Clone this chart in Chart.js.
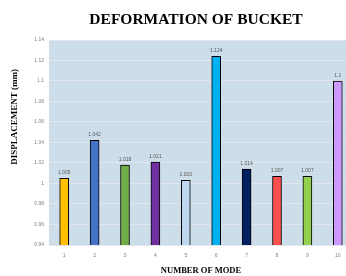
<!DOCTYPE html>
<html>
<head>
<meta charset="utf-8">
<script src="https://cdn.jsdelivr.net/npm/chart.js@4/dist/chart.umd.min.js"></script>
<style>
  html, body { margin: 0; padding: 0; background: #fff; overflow: hidden; }
  #wrap { width: 346px; height: 276px; overflow: hidden; }
</style>
</head>
<body>
<div id="wrap"><canvas id="bucketChart" width="354" height="276"></canvas></div>
<script>
const modes = ['1', '2', '3', '4', '5', '6', '7', '8', '9', '10'];
const displacement = [1.005, 1.042, 1.018, 1.021, 1.003, 1.124, 1.014, 1.007, 1.007, 1.1];
const barColors = ['#FFC000', '#4472C4', '#70AD47', '#7030A0', '#BDD7EE',
                   '#00B0F0', '#002060', '#FF5050', '#92D050', '#CC99FF'];
const yTicks = [0.94, 0.96, 0.98, 1, 1.02, 1.04, 1.06, 1.08, 1.1, 1.12, 1.14];

// plot background, value labels, chart title and y title drawn by hand
const extras = {
  id: 'extras',
  beforeDraw(chart) {
    const { ctx, chartArea } = chart;
    ctx.save();
    ctx.fillStyle = '#cddde9';
    ctx.fillRect(chartArea.left, chartArea.top, chartArea.right - chartArea.left, chartArea.bottom - chartArea.top);
    ctx.restore();
  },
  afterDatasetsDraw(chart) {
    const { ctx } = chart;
    const meta = chart.getDatasetMeta(0);
    ctx.save();
    ctx.font = '5px "Liberation Sans", sans-serif';
    ctx.fillStyle = '#595959';
    ctx.textAlign = 'center';
    ctx.textBaseline = 'bottom';
    meta.data.forEach((bar, i) => {
      ctx.fillText(String(displacement[i]), bar.x, bar.y - 3);
    });

    ctx.fillStyle = '#000';
    ctx.textBaseline = 'middle';
    ctx.font = 'bold 15.5px "Liberation Serif", serif';
    ctx.fillText('DEFORMATION OF BUCKET', 196, 20);

    ctx.translate(15, 117);
    ctx.rotate(-Math.PI / 2);
    ctx.font = 'bold 9px "Liberation Serif", serif';
    ctx.fillText('DISPLACEMENT (mm)', 0, 0);
    ctx.restore();
  }
};

const ctx = document.getElementById('bucketChart').getContext('2d');
new Chart(ctx, {
  type: 'bar',
  data: {
    labels: modes,
    datasets: [{
      data: displacement,
      backgroundColor: barColors,
      borderColor: '#000',
      borderWidth: 1,
      barThickness: 9
    }]
  },
  options: {
    responsive: false,
    animation: false,
    layout: { padding: { left: 0, right: 1, top: 40, bottom: 0 } },
    plugins: {
      legend: { display: false },
      tooltip: { enabled: false },
      title: { display: false }
    },
    scales: {
      x: {
        grid: { display: false, drawTicks: false },
        border: { display: false },
        ticks: { color: '#7f7f7f', font: { family: '"Liberation Sans", sans-serif', size: 5 }, padding: 8 },
        title: {
          display: true,
          text: 'NUMBER OF MODE',
          color: '#000',
          font: { family: '"Liberation Serif", serif', size: 8.5, weight: 'bold' },
          padding: { top: 0, bottom: 0 }
        },
        afterFit(scale) { scale.height = 31; }
      },
      y: {
        min: 0.94,
        max: 1.14,
        afterBuildTicks(scale) { scale.ticks = yTicks.map(v => ({ value: v })); },
        grid: { color: '#e2e6ea', lineWidth: 1, drawTicks: false },
        border: { display: false },
        ticks: {
          color: '#7f7f7f',
          font: { family: '"Liberation Sans", sans-serif', size: 5 },
          padding: 5,
          callback: v => String(Number(v.toFixed(2)))
        },
        afterFit(scale) { scale.width = 49; }
      }
    }
  },
  plugins: [extras]
});
</script>
</body>
</html>
